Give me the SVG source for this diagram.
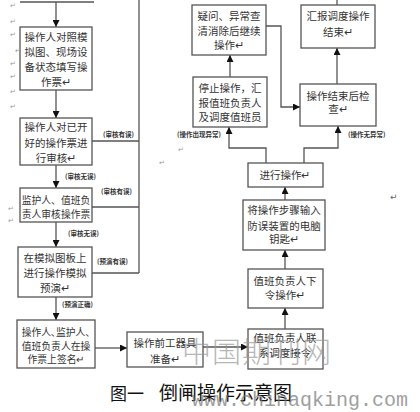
<svg xmlns="http://www.w3.org/2000/svg" width="420" height="412" viewBox="0 0 420 412">
<defs>
<marker id="ah" viewBox="0 0 10 10" refX="10" refY="5" markerWidth="7" markerHeight="7" markerUnits="userSpaceOnUse" orient="auto">
<path d="M0,0 L10,5 L0,10 z" fill="#111"/>
</marker>
<style>
.box{fill:#fff;stroke:#555;stroke-width:1.3}
.t{font-family:"Noto Sans CJK SC","Noto Sans",sans-serif;font-size:10.5px;fill:#333;text-anchor:middle}
.s{font-size:9.8px}
.lb{font-family:"Noto Sans CJK SC","Noto Sans",sans-serif;font-size:6.5px;fill:#333;font-weight:bold}
.c line,.c polyline{stroke:#555;stroke-width:1.3;fill:none}
.a{marker-end:url(#ah)}
.pm{font-family:"DejaVu Sans",sans-serif;font-size:7px;fill:#999}
</style>
</defs>
<rect width="420" height="412" fill="#fff"/>

<g class="c" id="connectors">
<line x1="20" y1="2" x2="94" y2="2"/>
<line class="a" x1="56" y1="2" x2="56" y2="27"/>
<line class="a" x1="56" y1="90" x2="56" y2="118"/>
<line class="a" x1="56" y1="165" x2="56" y2="188"/>
<line class="a" x1="56" y1="222" x2="56" y2="247"/>
<line class="a" x1="56" y1="297" x2="56" y2="320"/>
<line x1="139" y1="0" x2="139" y2="273"/>
<line x1="92" y1="141" x2="139" y2="141"/>
<line x1="92" y1="207" x2="139" y2="207"/>
<line x1="92" y1="273" x2="139" y2="273"/>
<line class="a" x1="95" y1="348" x2="127" y2="348"/>
<line class="a" x1="203" y1="347" x2="248" y2="347"/>
<line class="a" x1="285" y1="329" x2="285" y2="308"/>
<line class="a" x1="285" y1="269" x2="285" y2="250"/>
<line class="a" x1="285" y1="200" x2="285" y2="187"/>
<polyline class="a" points="266,163 266,148 229,148 229,127"/>
<polyline class="a" points="304,163 304,148 338,148 338,126"/>
<line class="a" x1="230" y1="77" x2="230" y2="55"/>
<polyline class="a" points="266,26 281,26 281,107 300,107"/>
<line class="a" x1="337" y1="84" x2="337" y2="48"/>
<line x1="337" y1="0" x2="337" y2="5"/>
</g>

<g id="labels">
<text class="lb" x="103" y="137">(审核有误)</text>
<text class="lb" x="65" y="179">(审核无误)</text>
<text class="lb" x="101" y="194">(审核有误)</text>
<text class="lb" x="68" y="236">(审核无误)</text>
<text class="lb" x="97" y="264">(预演有误)</text>
<text class="lb" x="62" y="307">(预演正确)</text>
<text class="lb" x="177" y="137">(操作出现异常)</text>
<text class="lb" x="348" y="137">(操作无异常)</text>
</g>

<g id="n1"><rect class="box" x="20" y="27" width="72" height="63"/>
<text class="t" x="56" y="41">操作人对照模</text><text class="t" x="56" y="56">拟图、现场设</text><text class="t" x="56" y="71">备状态填写操</text><text class="t" x="56" y="86">作票↵</text></g>

<g id="n2"><rect class="box" x="20" y="118" width="72" height="47"/>
<text class="t" x="56" y="131">操作人对已开</text><text class="t" x="56" y="147">好的操作票进</text><text class="t" x="56" y="162">行审核↵</text></g>

<g id="n3"><rect class="box" x="20" y="188" width="72" height="34"/>
<text class="t s" x="56" y="204">监护人、值班负</text><text class="t s" x="56" y="218">责人审核操作票</text></g>

<g id="n4"><rect class="box" x="18" y="247" width="74" height="50"/>
<text class="t" x="55" y="262">在模拟图板上</text><text class="t" x="55" y="277">进行操作模拟</text><text class="t" x="55" y="292">预演↵</text></g>

<g id="n5"><rect class="box" x="17" y="320" width="78" height="48"/>
<text class="t s" x="56" y="336">操作人､监护人､</text><text class="t s" x="56" y="350">值班负责人在操</text><text class="t s" x="56" y="363">作票上签名↵</text></g>

<g id="n6"><rect class="box" x="127" y="332" width="76" height="35"/>
<text class="t" x="165" y="347">操作前工器具</text><text class="t" x="165" y="363">准备↵</text></g>

<g id="n7"><rect class="box" x="248" y="329" width="75" height="40"/>
<text class="t" x="285" y="342">值班负责人联</text><text class="t" x="285" y="357">系调度接令</text></g>

<g id="n8"><rect class="box" x="248" y="269" width="75" height="39"/>
<text class="t" x="285" y="285">值班负责人下</text><text class="t" x="285" y="299">令操作↵</text></g>

<g id="n9"><rect class="box" x="243" y="200" width="82" height="50"/>
<text class="t" x="284" y="214">将操作步骤输入</text><text class="t" x="284" y="230">防误装置的电脑</text><text class="t" x="284" y="243">钥匙↵</text></g>

<g id="n10"><rect class="box" x="248" y="163" width="75" height="24"/>
<text class="t" x="285" y="179">进行操作↵</text></g>

<g id="n11"><rect class="box" x="193" y="77" width="74" height="50"/>
<text class="t" x="230" y="92">停止操作，汇</text><text class="t" x="230" y="107">报值班负责人</text><text class="t" x="230" y="121">及调度值班员</text></g>

<g id="n12"><rect class="box" x="300" y="84" width="76" height="42"/>
<text class="t" x="338" y="100">操作结束后检</text><text class="t" x="338" y="113">查↵</text></g>

<g id="n13"><rect class="box" x="192" y="5" width="74" height="50"/>
<text class="t" x="229" y="20">疑问、异常查</text><text class="t" x="229" y="35">清消除后继续</text><text class="t" x="229" y="49">操作↵</text></g>

<g id="n14"><rect class="box" x="301" y="5" width="74" height="43"/>
<text class="t" x="338" y="20">汇报调度操作</text><text class="t" x="338" y="36">结束↵</text></g>

<g id="marks">
<text class="pm" x="10" y="8">↵</text><text class="pm" x="10" y="24">↵</text><text class="pm" x="10" y="37">↵</text><text class="pm" x="15" y="53">↵</text>
<text class="pm" x="10" y="66">↵</text><text class="pm" x="10" y="79">↵</text><text class="pm" x="10" y="94">↵</text><text class="pm" x="10" y="109">↵</text>
<text class="pm" x="8" y="211">↵</text><text class="pm" x="8" y="223">↵</text>
<text class="pm" x="178" y="152">↵</text><text class="pm" x="159" y="165">↵</text>
<text class="pm" x="390" y="200" style="font-size:9px;fill:#666">↵</text>
</g>

<g id="caption">
<text x="110" y="400" style="font-family:'Noto Sans CJK SC',sans-serif;font-size:17px;fill:#111">图一</text>
<text x="159" y="400" style="font-family:'Noto Sans CJK SC',sans-serif;font-size:19px;fill:#111">倒闸操作示意图</text>
</g>

<g id="watermark" opacity="0.7">
<text x="182" y="363" style="font-family:'Noto Sans CJK SC',sans-serif;font-size:29px;font-weight:300;fill:#999;letter-spacing:1px">中国期刊网</text>
<text x="192" y="406" style="font-family:'Liberation Mono',monospace;font-size:20px;fill:#777">www.chinaqking.com</text>
</g>
</svg>
